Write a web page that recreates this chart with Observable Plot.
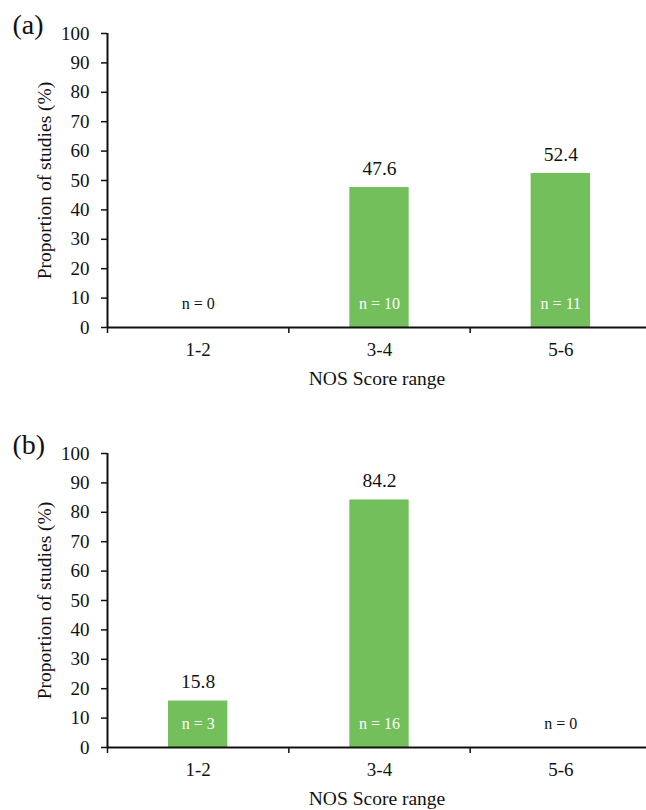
<!DOCTYPE html>
<html>
<head>
<meta charset="utf-8">
<script src="https://cdn.jsdelivr.net/npm/d3@7"></script>
<script src="https://cdn.jsdelivr.net/npm/@observablehq/plot@0.6"></script>
<style>
  html, body { margin: 0; padding: 0; background: #fff; }
  body { width: 646px; overflow: hidden; }
  svg { display: block; overflow: visible; }
  svg, svg text, svg g { font-family: "Liberation Serif", "DejaVu Serif", serif !important; }
</style>
</head>
<body>
<div id="chart"></div>
<script>
const categories = ["1-2", "3-4", "5-6"];
const valuesA = [0, 47.6, 52.4];
const countsA = [0, 10, 11];
const valuesB = [15.8, 84.2, 0];
const countsB = [3, 16, 0];
const yTicks = [0, 10, 20, 30, 40, 50, 60, 70, 80, 90, 100];
const panelLabels = ["(a)", "(b)"];
const xTitle = "NOS Score range";
const yTitle = "Proportion of studies (%)";

const green = "#72BF5B";
const ink = "#111";
const serif = "Liberation Serif";

function makePanel(letter, values, counts, height, marginBottom) {
  const data = categories.map((c, i) => ({i, c, v: values[i], n: counts[i]}));
  return Plot.plot({
    width: 646,
    height,
    marginTop: 33,
    marginBottom,
    marginLeft: 107,
    marginRight: 0,
    style: {fontFamily: serif, color: ink, background: "#fff", overflow: "visible"},
    x: {type: "linear", domain: [0, 3], range: [107, 651], axis: null},
    y: {domain: [0, 100], axis: null},
    marks: [
      Plot.rectY(data.filter(d => d.v > 0), {x1: "i", x2: d => d.i + 1, y: "v", insetLeft: 61, insetRight: 61, fill: green}),
      // y axis
      Plot.axisY(yTicks, {anchor: "left", tickSize: 6, tickPadding: 12, fontSize: 19, fontFamily: serif, label: null, stroke: ink, strokeWidth: 1.5, fill: ink}),
      Plot.ruleX([0], {y1: 0, y2: 100, stroke: ink, strokeWidth: 2}),
      // x axis boundary ticks
      Plot.axisX([0, 1, 2, 3], {anchor: "bottom", tickSize: 6, tickFormat: () => "", label: null, stroke: ink, strokeWidth: 1.5}),
      // x category labels
      Plot.axisX([0.5, 1.5, 2.5], {anchor: "bottom", tickSize: 0, tickPadding: 15, tickFormat: d => categories[Math.floor(d)], fontSize: 19, fontFamily: serif, label: null, fill: ink}),
      Plot.ruleY([0], {stroke: ink, strokeWidth: 2.2}),
      // value labels
      Plot.text(data.filter(d => d.v > 0), {x: d => d.i + 0.5, y: "v", text: d => d.v.toFixed(1), dy: -19, lineAnchor: "middle", fontSize: 19.5, fontFamily: serif, fill: ink}),
      // n labels
      Plot.text(data, {x: d => d.i + 0.5, y: 0, text: d => `n = ${d.n}`, dy: -24, lineAnchor: "middle", fontSize: 16, fontFamily: serif, fill: d => d.v > 0 ? "#fff" : ink}),
      // axis titles
      Plot.text([yTitle], {frameAnchor: "left", dx: -63, rotate: -90, textAnchor: "middle", lineAnchor: "middle", fontSize: 19.5, fontFamily: serif, fill: ink}),
      Plot.text([xTitle], {frameAnchor: "bottom", dy: 51, textAnchor: "middle", lineAnchor: "middle", fontSize: 19.5, fontFamily: serif, fill: ink}),
      // panel letter
      Plot.text([letter], {frameAnchor: "top-left", dx: -95, dy: -8, textAnchor: "start", lineAnchor: "middle", fontSize: 28, fontFamily: serif, fill: ink})
    ]
  });
}

const root = document.getElementById("chart");
root.appendChild(makePanel(panelLabels[0], valuesA, countsA, 420, 93));
root.appendChild(makePanel(panelLabels[1], valuesB, countsB, 390, 63));
</script>
</body>
</html>
